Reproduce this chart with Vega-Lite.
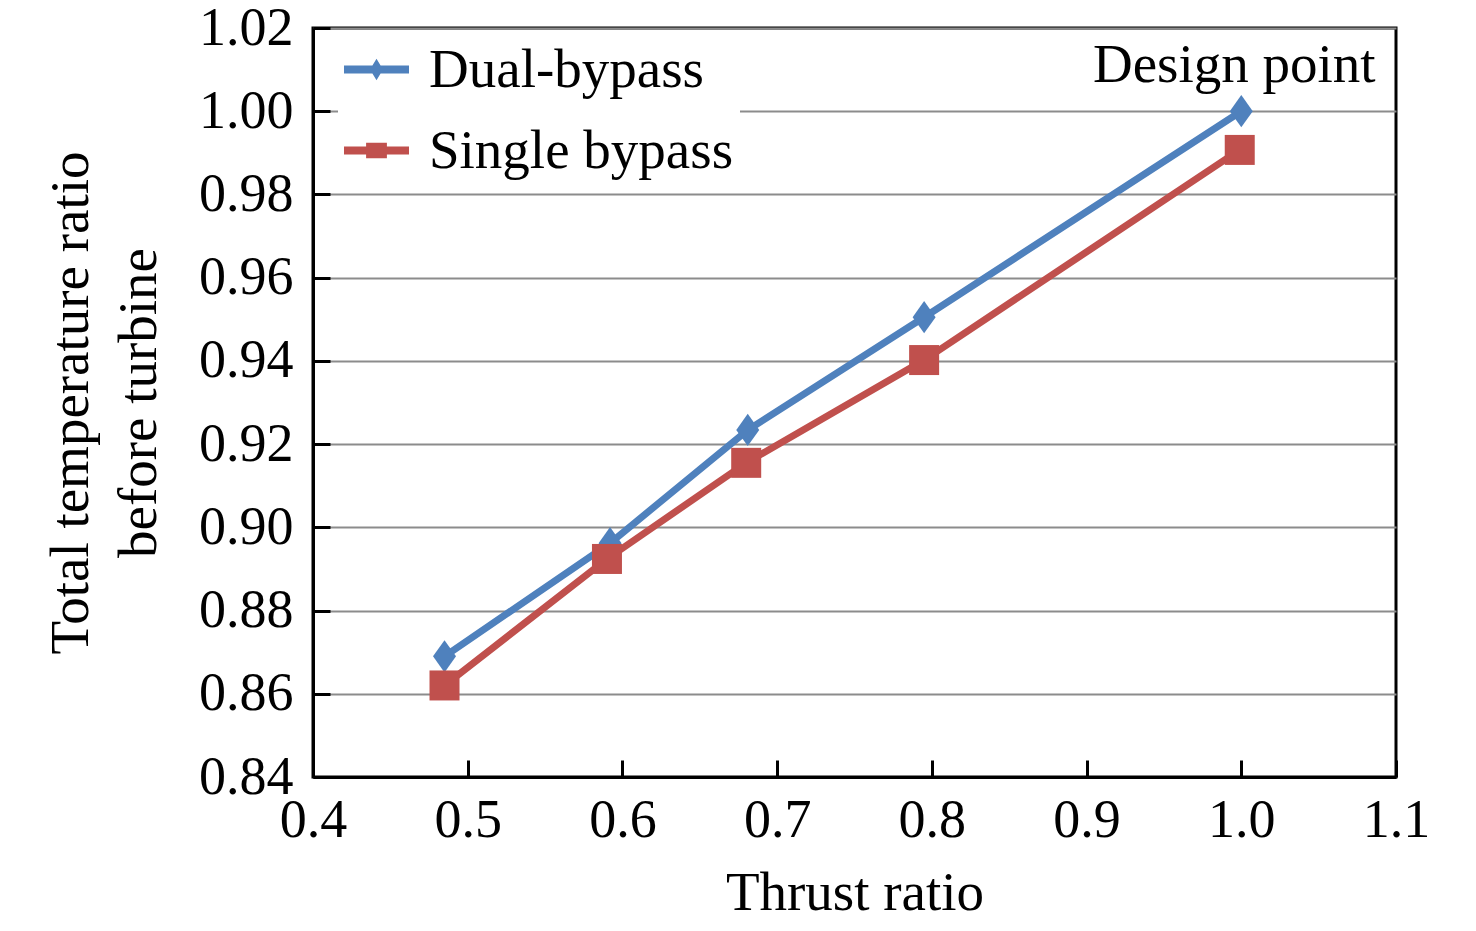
{
  "$schema": "https://vega.github.io/schema/vega-lite/v6.json",
  "width": 1083,
  "height": 749,
  "autosize": {"type": "none"},
  "padding": {"left": 313, "top": 28, "right": 80, "bottom": 154},
  "background": "white",
  "config": {
    "font": "Liberation Serif",
    "view": {"stroke": "black", "strokeWidth": 3},
    "axis": {
      "domainColor": "black",
      "domainWidth": 3,
      "tickColor": "black",
      "tickWidth": 3,
      "tickSize": -17,
      "labelFont": "Liberation Serif",
      "labelFontSize": 54,
      "labelColor": "black",
      "labelFlush": false,
      "labelOverlap": false,
      "titleFont": "Liberation Serif",
      "titleFontSize": 55,
      "titleFontWeight": "normal",
      "titleColor": "black",
      "gridColor": "#8c8c8c",
      "gridWidth": 2
    }
  },
  "datasets": {
    "series": [
      {"thrust": 0.485, "temp": 0.869, "case": "Dual-bypass"},
      {"thrust": 0.592, "temp": 0.8962, "case": "Dual-bypass"},
      {"thrust": 0.681, "temp": 0.9234, "case": "Dual-bypass"},
      {"thrust": 0.795, "temp": 0.9505, "case": "Dual-bypass"},
      {"thrust": 1.0, "temp": 1.0, "case": "Dual-bypass"},
      {"thrust": 0.485, "temp": 0.862, "case": "Single bypass"},
      {"thrust": 0.59, "temp": 0.8924, "case": "Single bypass"},
      {"thrust": 0.68, "temp": 0.9155, "case": "Single bypass"},
      {"thrust": 0.795, "temp": 0.9402, "case": "Single bypass"},
      {"thrust": 0.999, "temp": 0.9907, "case": "Single bypass"}
    ],
    "notes": [
      {"thrust": 1.0, "temp": 1.0, "label": "Design point"}
    ]
  },
  "encoding": {
    "x": {
      "field": "thrust",
      "type": "quantitative",
      "scale": {"domain": [0.4, 1.1], "nice": false, "zero": false},
      "axis": {
        "title": "Thrust ratio",
        "values": [0.4, 0.5, 0.6, 0.7, 0.8, 0.9, 1.0, 1.1],
        "format": ".1f",
        "grid": false,
        "labelPadding": 33,
        "titlePadding": 19
      }
    },
    "y": {
      "field": "temp",
      "type": "quantitative",
      "scale": {"domain": [0.84, 1.02], "nice": false, "zero": false},
      "axis": {
        "title": ["Total temperature ratio", "before turbine"],
        "titleLineHeight": 68,
        "values": [0.84, 0.86, 0.88, 0.9, 0.92, 0.94, 0.96, 0.98, 1.0, 1.02],
        "format": ".2f",
        "grid": true,
        "labelPadding": 37,
        "titlePadding": 31
      }
    }
  },
  "layer": [
    {
      "data": {"name": "series"},
      "mark": {"type": "line", "strokeWidth": 7},
      "encoding": {
        "color": {
          "field": "case",
          "type": "nominal",
          "scale": {"domain": ["Dual-bypass", "Single bypass"], "range": ["#4f81bd", "#c0504d"]},
          "legend": {
            "title": null,
            "orient": "none",
            "legendX": 25,
            "legendY": 3,
            "padding": 6,
            "fillColor": "white",
            "labelFont": "Liberation Serif",
            "labelFontSize": 55,
            "labelColor": "black",
            "labelLimit": 0,
            "labelOffset": 20,
            "rowPadding": 20,
            "symbolSize": 4225,
            "encode": {
              "symbols": {
                "update": {
                  "shape": {"signal": "datum.value == 'Dual-bypass' ? 'M-1,-0.12H1V0.12H-1Z M0,-0.33L0.2,0L0,0.33L-0.2,0Z' : 'M-1,-0.12H1V0.12H-1Z M-0.32,-0.24H0.32V0.24H-0.32Z'"},
                  "fill": {"scale": "color", "field": "value"},
                  "stroke": {"value": "transparent"},
                  "strokeWidth": {"value": 0},
                  "opacity": {"value": 1}
                }
              }
            }
          }
        }
      }
    },
    {
      "data": {"name": "series"},
      "transform": [{"filter": "datum.case == 'Dual-bypass'"}],
      "mark": {"type": "point", "filled": true, "opacity": 1, "color": "#4f81bd", "shape": "M0,-0.7L0.5,0L0,0.7L-0.5,0Z", "size": 2116}
    },
    {
      "data": {"name": "series"},
      "transform": [{"filter": "datum.case == 'Single bypass'"}],
      "mark": {"type": "point", "filled": true, "opacity": 1, "color": "#c0504d", "shape": "square", "size": 900}
    },
    {
      "data": {"name": "notes"},
      "mark": {"type": "text", "fontSize": 55, "font": "Liberation Serif", "color": "black", "baseline": "alphabetic", "align": "center", "dx": -7, "dy": -29},
      "encoding": {
        "text": {"field": "label", "type": "nominal"}
      }
    }
  ]
}
